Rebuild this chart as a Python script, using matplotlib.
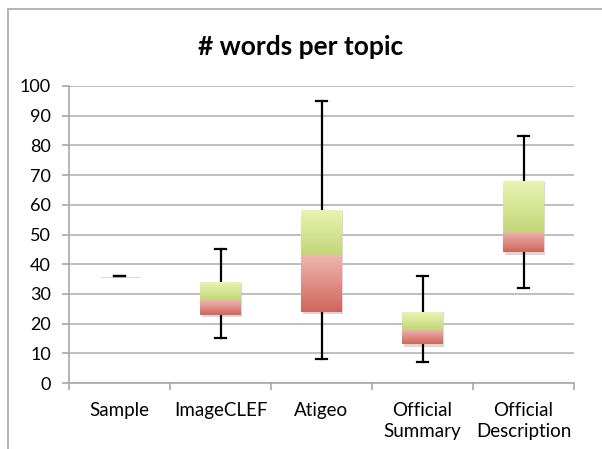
import matplotlib
matplotlib.use('Agg')
import matplotlib.pyplot as plt
import numpy as np
from matplotlib.colors import LinearSegmentedColormap
from matplotlib.patches import Rectangle

categories = ['Sample', 'ImageCLEF', 'Atigeo', 'Official\nSummary', 'Official\nDescription']
mins = [36, 15, 8, 7, 32]
q1 = [36, 23, 24, 13, 44]
medians = [36, 28, 43, 18, 51]
q3 = [36, 34, 58, 24, 68]
maxs = [36, 45, 95, 36, 83]

plt.rcParams['font.family'] = ['Lato', 'DejaVu Sans']

green = LinearSegmentedColormap.from_list('g', ['#c3d677', '#e8f4b2'])
red = LinearSegmentedColormap.from_list('r', ['#cf665b', '#f0b5b1'])
grad = np.linspace(0, 1, 64).reshape(-1, 1)

fig = plt.figure(figsize=(6.02, 4.49), dpi=100)
ax = fig.add_axes([69/602, 1-383/449, (574-69)/602, (383-86)/449])

# chart border like the spreadsheet frame
fig.patches.append(Rectangle((8/602, -0.1), 1.2, 1-9/449+0.1, transform=fig.transFigure,
                             fill=False, edgecolor='#a8a8a8', linewidth=1.2))

X = np.arange(len(categories))
w = 0.4

for i in X:
    x0, x1 = i - w/2, i + w/2
    # drop shadow
    ax.add_patch(Rectangle((x0 + 0.012, q1[i] - 0.8), w, q3[i] - q1[i] + 0.6,
                           color='#c8c8c8', alpha=0.7, zorder=2, linewidth=0))
    # whiskers
    ax.plot([i, i], [mins[i], q1[i]], color='black', linewidth=1.6, zorder=3)
    ax.plot([i, i], [q3[i], maxs[i]], color='black', linewidth=1.6, zorder=3)
    ax.plot([i - 0.05, i + 0.05], [mins[i], mins[i]], color='black', linewidth=1.6, zorder=3)
    ax.plot([i - 0.05, i + 0.05], [maxs[i], maxs[i]], color='black', linewidth=1.6, zorder=3)
    # gradient boxes
    if medians[i] > q1[i]:
        ax.imshow(grad, cmap=red, extent=(x0, x1, q1[i], medians[i]), origin='lower',
                  aspect='auto', zorder=4, interpolation='bilinear')
    if q3[i] > medians[i]:
        ax.imshow(grad, cmap=green, extent=(x0, x1, medians[i], q3[i]), origin='lower',
                  aspect='auto', zorder=4, interpolation='bilinear')

ax.set_xlim(-0.5, len(categories) - 0.5)
ax.set_ylim(0, 100)
ax.set_yticks(np.arange(0, 101, 10))
ax.set_xticks(X)
ax.set_xticklabels(categories, fontsize=13.5, linespacing=1.25)
ax.set_xticks(np.arange(-0.5, len(categories)), minor=True)
ax.tick_params(axis='x', which='major', length=0, pad=14)
ax.tick_params(axis='x', which='minor', length=5, width=1.2, color='#a8a8a8', direction='out')
ax.tick_params(axis='y', length=5, width=1.2, color='#a8a8a8', pad=8, labelsize=13)

ax.grid(axis='y', color='#b4b4b4', linewidth=1.2, zorder=0)
ax.set_axisbelow(True)
for s in ['top', 'right']:
    ax.spines[s].set_visible(False)
for s in ['left', 'bottom']:
    ax.spines[s].set_color('#a8a8a8')
    ax.spines[s].set_linewidth(1.2)

fig.text(0.5, 1-47/449, '# words per topic', ha='center', va='center',
         fontsize=19, fontweight='bold')

fig.savefig('out.png', dpi=100)
